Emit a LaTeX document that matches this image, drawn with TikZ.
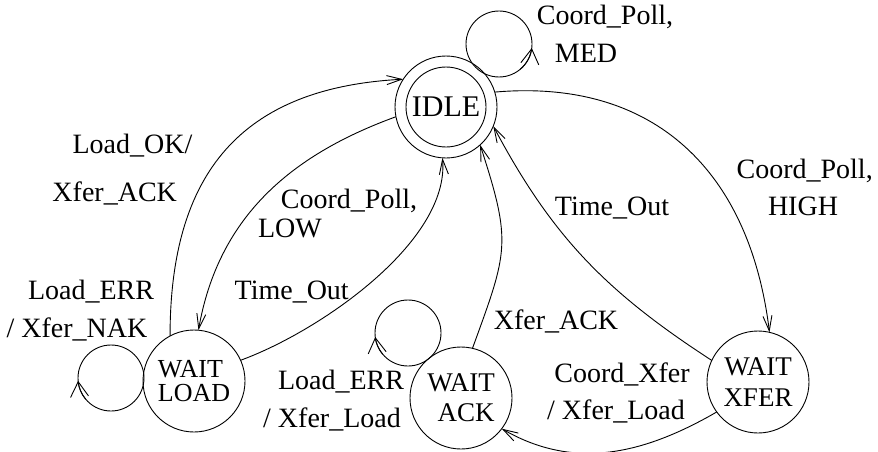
\documentclass[tikz,border=0pt]{standalone}
\usepackage{fontspec}
\setmainfont{Liberation Serif}
\usetikzlibrary{arrows.meta}
\begin{document}
\begin{tikzpicture}[x=1pt,y=1pt,
  every node/.style={inner sep=0pt, outer sep=0pt},
  line/.style={line width=0.9pt},
  arr/.style={line, -{Straight Barb[length=15pt,width=9pt]}},
  looparr/.style={line, -{Straight Barb[length=15pt,width=18pt]}},
  state/.style={circle, draw, line width=0.9pt, minimum size=102pt},
  loopc/.style={circle, draw, line width=0.9pt, minimum size=66pt},
  lbl/.style={anchor=base, font=\fontsize{28}{28}\selectfont},
]
\useasboundingbox (0,0) rectangle (878,-452);

% states
\node[state] (idle) at (446,-107) {};
\node[circle, draw, line width=0.9pt, minimum size=80pt, font=\fontsize{30}{30}\selectfont] (idlein) at (idle.center) {IDLE};
\node[state, align=left, font=\fontsize{26}{24}\selectfont] (load) at (194,-381) {WAIT\\LOAD};
\node[state, align=right, font=\fontsize{27}{30}\selectfont] (ack) at (461,-398) {WAIT\\ACK};
\node[state, align=center, font=\fontsize{27}{31}\selectfont] (xfer) at (758,-382) {WAIT\\XFER};

% self loops
\node[loopc] (idleloop) at (499,-44) {};
\node[loopc] (loadloop) at (111,-378) {};
\node[loopc] (ackloop) at (408,-333) {};
\draw[looparr] (idleloop.-50) arc[start angle=-50, end angle=-7, radius=33pt];
\draw[looparr] (loadloop.220) arc[start angle=220, end angle=185, radius=33pt];
\draw[looparr] (ackloop.220) arc[start angle=220, end angle=187, radius=33pt];

% transitions
\draw[arr] (idle.17) to[out=5,in=97,looseness=1.13] (xfer.77);
\draw[arr] (xfer.216) to[out=210,in=-30] (ack.-37);
\draw[arr] (xfer.155) to[out=147,in=-62] (idle.-22);
\draw[arr] (ack.77) to[out=70,in=-72,looseness=1.3] (idle.-48);
\draw[arr] (load.24) to[out=20,in=-85,looseness=0.75] (idle.266);
\draw[arr] (idle.191) to[out=200,in=80] (load.85);
\draw[arr] (load.118) to[out=90,in=183,looseness=1.2] (idle.147);

% labels
\node[lbl] (lmed1) at (605,-25) {Coord\_Poll,};
\node[lbl] (lmed2) at (586,-63) {MED};
\node[lbl] (lok1) at (132.5,-153) {Load\_OK/};
\node[lbl] (lok2) at (114.7,-201) {Xfer\_ACK};
\node[lbl] (llow1) at (349,-208) {Coord\_Poll,};
\node[lbl] (llow2) at (290,-237) {LOW};
\node[lbl] (lto1) at (291.7,-299) {Time\_Out};
\node[lbl] (lerr1) at (91,-299) {Load\_ERR};
\node[lbl] (lerr2) at (77,-337) {/ Xfer\_NAK};
\node[lbl] (lackerr1) at (341,-389) {Load\_ERR};
\node[lbl] (lackerr2) at (332,-427) {/ Xfer\_Load};
\node[lbl] (lxack) at (556,-329) {Xfer\_ACK};
\node[lbl] (lto2) at (612,-215) {Time\_Out};
\node[lbl] (lhigh1) at (804.7,-178) {Coord\_Poll,};
\node[lbl] (lhigh2) at (803,-215) {HIGH};
\node[lbl] (lxfer1) at (622,-382) {Coord\_Xfer};
\node[lbl] (lxfer2) at (616,-419) {/ Xfer\_Load};
\end{tikzpicture}
\end{document}
